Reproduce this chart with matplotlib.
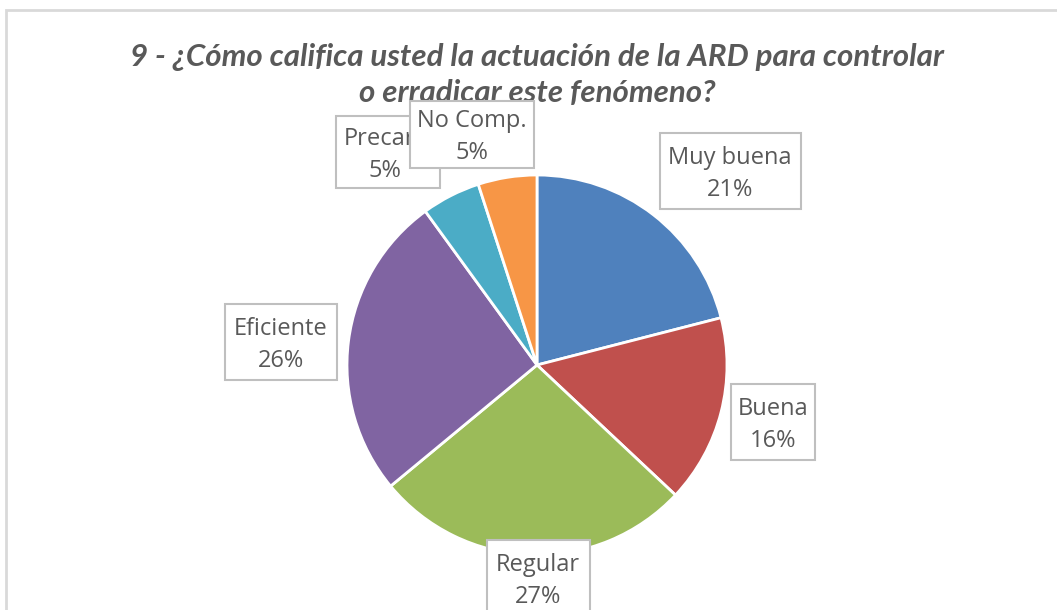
import matplotlib
matplotlib.use("Agg")
import matplotlib.pyplot as plt
from matplotlib.patches import Rectangle

categories = ["Muy buena", "Buena", "Regular", "Eficiente", "Precaria", "No Comp."]
percent = [21, 16, 27, 26, 5, 5]
colors = ["#4F81BD", "#C0504D", "#9BBB59", "#8064A2", "#4BACC6", "#F79646"]
title = "9 - ¿Cómo califica usted la actuación de la ARD para controlar\no erradicar este fenómeno?"

W, H = 1057, 610
fig = plt.figure(figsize=(W / 100, H / 100), dpi=100)
ax = fig.add_axes([0, 0, 1, 1])

cx, cy, r = 537, H - 365, 190
wedges, _ = ax.pie(percent, colors=colors, startangle=90, counterclock=False,
                   center=(cx, cy), radius=r, frame=True,
                   wedgeprops=dict(edgecolor="white", linewidth=2))
ax.set_xlim(0, W)
ax.set_ylim(0, H)
ax.set_aspect("equal")
ax.axis("off")

# chart border (cropped at right/bottom)
ax.add_patch(Rectangle((6, -10), W + 20, H, fill=False,
                       edgecolor="#D9D9D9", linewidth=2, zorder=0))

# label box centers (pixel coords from top)
label_pos = [(730, 171), (773, 422), (538, 578), (281, 342), (388, 152), (472, 134)]
label_w = [141, 84, 103, 112, 104, 124]
label_h = [76, 76, 76, 76, 72, 67]
fs = 17
for i in range(len(categories)):
    x, y = label_pos[i]
    w, h = label_w[i], label_h[i]
    yy = H - y
    ax.add_patch(Rectangle((x - w / 2, yy - h / 2), w, h, facecolor="white",
                           edgecolor="#BFBFBF", linewidth=1.5, zorder=5 + i))
    if i == 4:
        ax.text(x - w / 2 + 8, yy + 13, categories[i], ha="left", va="center", fontsize=fs,
                family="Open Sans", color="#595959", zorder=5.5 + i)
        ax.text(x - 3, yy - 19, f"{percent[i]}%", ha="center", va="center", fontsize=fs,
                family="Open Sans", color="#595959", zorder=5.5 + i)
    else:
        ax.text(x, yy + 13, categories[i], ha="center", va="center", fontsize=fs,
                family="Open Sans", color="#595959", zorder=5.5 + i)
        ax.text(x, yy - 19, f"{percent[i]}%", ha="center", va="center", fontsize=fs,
                family="Open Sans", color="#595959", zorder=5.5 + i)

ax.text(537, H - 75, title, ha="center", va="center", fontsize=22.5,
        family="Lato", fontweight="bold", fontstyle="italic", color="#595959",
        linespacing=1.38, zorder=4)

fig.savefig("out.png", dpi=100)
